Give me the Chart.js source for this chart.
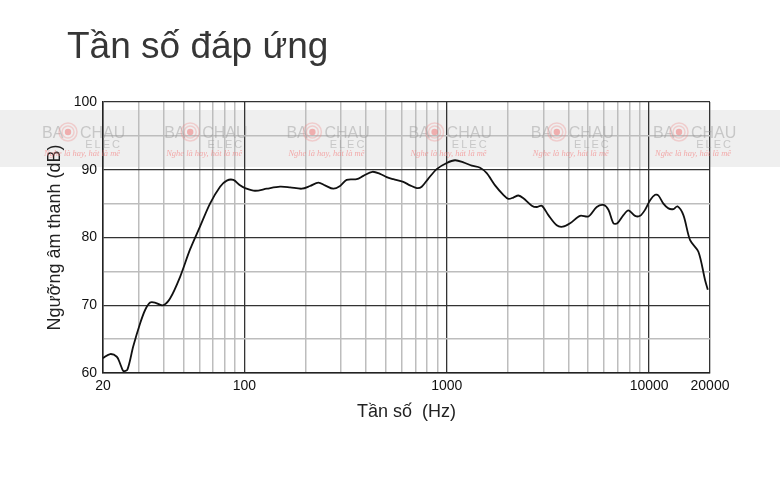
<!DOCTYPE html>
<html>
<head>
<meta charset="utf-8">
<script src="https://cdn.jsdelivr.net/npm/chart.js@4/dist/chart.umd.min.js"></script>
<style>
  html, body { margin: 0; padding: 0; background: #fff; }
  #wrap { position: relative; width: 780px; height: 480px; }
  #c { position: absolute; left: 0; top: 0; }
  #title { position: absolute; left: 67px; top: 27px; margin: 0;
    font: 37px "Liberation Sans", Arial, sans-serif; line-height: 37px; color: #363636; font-weight: normal; }
</style>
</head>
<body>
<div id="wrap">
  <canvas id="c" width="780" height="480"></canvas>
  <h1 id="title">Tần số đáp ứng</h1>
</div>
<script>
// Frequency (Hz) and level (dB)
const freq = [20, 21.7, 23.4, 24.3, 25.2, 26.4, 28.2, 30.5, 32.3, 34.2, 36.1, 39.5, 42.9, 48.1, 53.8, 60.3, 67.6, 75.8, 81.8, 88.2,
  95.1, 100.7, 112.8, 128.9, 149.9, 168, 192, 211, 232, 250, 275, 297, 320, 359, 387, 429, 468, 505, 545, 610,
  658, 711, 752, 811, 892, 1000, 1099, 1208, 1329, 1461, 1576, 1733, 1904, 2016, 2134, 2260, 2392, 2632, 2785, 2948,
  3178, 3496, 3745, 4069, 4560, 5012, 5512, 5944, 6294, 6662, 6972, 7466, 7904, 8529, 9028, 9557, 10117, 10712, 11118, 11768,
  12460, 13190, 13804, 14775, 15950, 17526, 18916, 19504];
const level = [62.2, 62.8, 62.4, 61.4, 60.3, 60.5, 63.9, 67.3, 69.3, 70.4, 70.4, 70.0, 71.0, 74.2, 78.2, 81.6, 85.0, 87.5, 88.4, 88.5,
  87.7, 87.3, 86.9, 87.2, 87.5, 87.4, 87.2, 87.6, 88.1, 87.7, 87.2, 87.6, 88.5, 88.6, 89.1, 89.7, 89.4, 88.9, 88.6, 88.2,
  87.7, 87.3, 87.5, 88.7, 90.1, 91.0, 91.4, 91.1, 90.6, 90.3, 89.5, 87.7, 86.3, 85.7, 85.9, 86.2, 85.8, 84.7, 84.5, 84.7,
  83.3, 81.8, 81.6, 82.1, 83.2, 83.1, 84.5, 84.8, 84.1, 82.1, 82.1, 83.3, 84.0, 83.2, 83.2, 84.1, 85.5, 86.3, 86.2, 85.0,
  84.3, 84.2, 84.6, 83.3, 79.6, 77.9, 73.7, 72.3];

// Tick / grid values
const xGridValues = [20, 30, 40, 50, 60, 70, 80, 90, 100, 200, 300, 400, 500, 600, 700, 800, 900,
  1000, 2000, 3000, 4000, 5000, 6000, 7000, 8000, 9000, 10000, 20000];
const xTickLabels = [20, 100, 1000, 10000, 20000];
const xMajorGrid = [20, 100, 1000, 10000, 20000];
const yTickLabels = [60, 70, 80, 90, 100];

const xTitle = 'Tần số  (Hz)';
const yTitle = 'Ngưỡng âm thanh (dB)';
const watermarkCount = 6;

const FONT = '"Liberation Sans", Arial, sans-serif';

const watermark = {
  id: 'watermark',
  beforeDraw(chart) {
    const ctx = chart.ctx;
    ctx.save();
    ctx.fillStyle = '#ffffff';
    ctx.fillRect(0, 0, chart.width, chart.height);
    ctx.fillStyle = '#efefef';
    ctx.fillRect(0, 110, chart.width, 57);
    ctx.restore();
  },
  beforeDatasetsDraw(chart) {
    const ctx = chart.ctx;
    ctx.save();
    for (let i = 0; i < watermarkCount; i++) {
      const L = 42 + i * 122.2;
      ctx.fillStyle = 'rgba(150,150,150,0.45)';
      ctx.font = '16px ' + FONT;
      ctx.textBaseline = 'alphabetic';
      ctx.textAlign = 'left';
      ctx.fillText('BA', L, 138);
      ctx.fillText('CHAU', L + 38, 138);
      ctx.strokeStyle = 'rgba(240,140,140,0.35)';
      ctx.lineWidth = 1.5;
      ctx.beginPath(); ctx.arc(L + 26, 132, 9, 0, Math.PI * 2); ctx.stroke();
      ctx.beginPath(); ctx.arc(L + 26, 132, 6, 0, Math.PI * 2); ctx.stroke();
      ctx.fillStyle = 'rgba(240,110,110,0.5)';
      ctx.beginPath(); ctx.arc(L + 26, 132, 3.2, 0, Math.PI * 2); ctx.fill();
      ctx.fillStyle = 'rgba(150,150,150,0.45)';
      ctx.font = '11px ' + FONT;
      ctx.textAlign = 'right';
      ctx.letterSpacing = '2px';
      ctx.fillText('ELEC', L + 80, 148);
      ctx.letterSpacing = '0px';
      ctx.fillStyle = 'rgba(245,120,120,0.6)';
      ctx.font = 'italic 9px "Liberation Serif", serif';
      ctx.fillText('Nghe là hay, hát là mê', L + 78, 156, 76);
    }
    ctx.restore();
  }
};

new Chart(document.getElementById('c'), {
  type: 'line',
  data: {
    datasets: [{
      data: freq.map((f, i) => ({ x: f, y: level[i] })),
      borderColor: '#111111',
      borderWidth: 1.8,
      pointRadius: 0,
      tension: 0.3,
      fill: false
    }]
  },
  options: {
    responsive: false,
    animation: false,
    devicePixelRatio: 1,
    layout: { padding: { left: 40, top: 102, right: 70, bottom: 53 } },
    plugins: { legend: { display: false }, tooltip: { enabled: false }, title: { display: false } },
    scales: {
      x: {
        type: 'logarithmic',
        min: 20,
        max: 20000,
        afterBuildTicks(scale) { scale.ticks = xGridValues.map(v => ({ value: v })); },
        afterFit(scale) { scale.height = 54; },
        ticks: {
          autoSkip: false,
          maxRotation: 0,
          padding: 5,
          color: '#111',
          font: { family: FONT, size: 14 },
          callback(value) { return xTickLabels.includes(value) ? String(value) : ''; }
        },
        grid: {
          drawTicks: false,
          lineWidth(ctx) { return ctx.tick && xMajorGrid.includes(ctx.tick.value) ? 1.3 : 1.5; },
          color(ctx) { return ctx.tick && xMajorGrid.includes(ctx.tick.value) ? '#333333' : '#bdbdbd'; }
        },
        border: { color: '#222', width: 1.5 },
        title: { display: true, text: xTitle, color: '#222', font: { family: FONT, size: 18 }, padding: 4 }
      },
      y: {
        min: 60,
        max: 100,
        afterFit(scale) { scale.width = 63; },
        ticks: {
          stepSize: 5,
          padding: 6,
          color: '#111',
          font: { family: FONT, size: 14 },
          callback(value) { return yTickLabels.includes(value) ? String(value) : ''; }
        },
        grid: {
          drawTicks: false,
          lineWidth(ctx) { return ctx.tick && yTickLabels.includes(ctx.tick.value) ? 1.3 : 1.5; },
          color(ctx) { return ctx.tick && yTickLabels.includes(ctx.tick.value) ? '#333333' : '#bdbdbd'; }
        },
        border: { color: '#222', width: 1.5 },
        title: { display: true, text: yTitle, color: '#222', font: { family: FONT, size: 18 }, padding: 4 }
      }
    }
  },
  plugins: [watermark]
});
</script>
</body>
</html>
